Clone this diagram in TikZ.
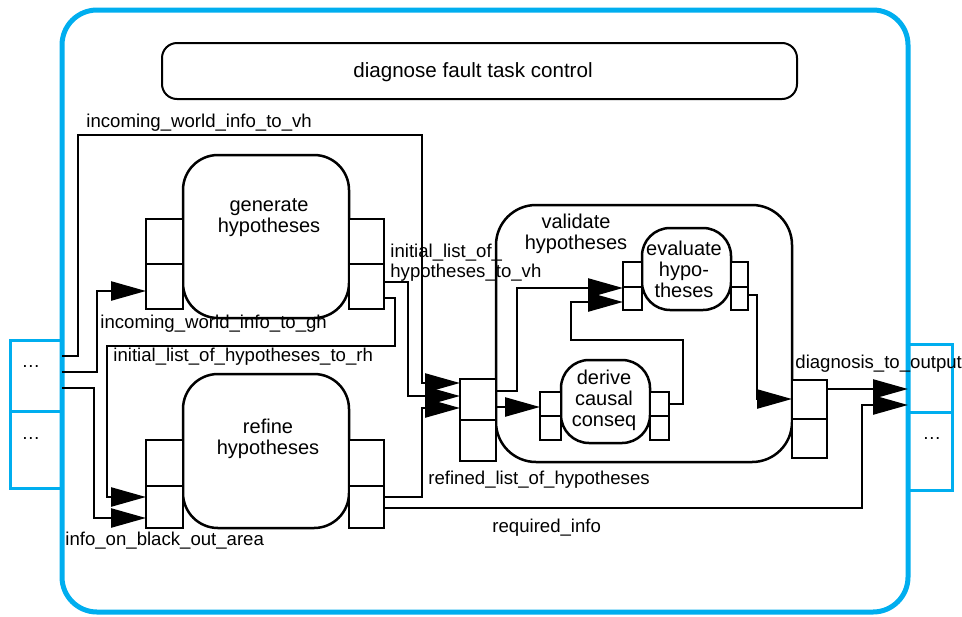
\documentclass[tikz,border=0pt]{standalone}
\usepackage{fontspec}
\setmainfont{Liberation Sans}
\usetikzlibrary{arrows.meta,fit}
\definecolor{frameblue}{RGB}{0,174,239}
\tikzset{
 wire/.style={line width=1.25pt, -{Triangle[length=17.5pt,width=9.5pt]}},
 port/.style={draw, line width=1.25pt, fill=white, inner sep=0pt, outer sep=0pt},
 task/.style={draw, line width=1.25pt, fill=white, inner sep=0pt, outer sep=0pt},
 bport/.style={draw=frameblue, line width=1.5pt, inner sep=0pt, outer sep=0pt},
 lbl/.style={font=\fontsize{9.3}{10}\selectfont, anchor=base west, inner sep=0pt},
 dots/.style={font=\fontsize{9.3}{10}\selectfont, anchor=base, inner sep=0pt},
 nm/.style={font=\fontsize{10}{10.5}\selectfont, align=center, anchor=base, inner sep=0pt},
}
\begin{document}
\begin{tikzpicture}[x=0.5pt,y=-0.5pt]
\useasboundingbox (0,0) rectangle (962,616);
% outer frame
\node[draw=frameblue, line width=2.5pt, rounded corners=17.5pt, inner sep=0pt, outer sep=0pt, fit={(62,10)(908,612)}] (outer) {};
% interface ports
\node[bport, fit={(10,340)(62,411)}] (in1) {};
\node[bport, fit={(10,411)(62,488)}] (in2) {};
\node[bport, fit={(908,344)(952,412)}] (out1) {};
\node[bport, fit={(908,412)(952,490)}] (out2) {};
\node[dots] (in1t) at (31,367) {…};
\node[dots] (in2t) at (31,439) {…};
\node[dots] (out2t) at (932,439) {…};
% task control
\node[task, line width=1pt, rounded corners=7.5pt, fit={(162,43)(797,99)}] (ctrl) {};
\node[font=\fontsize{10.3}{12}\selectfont, anchor=base, inner sep=0pt] (ctrlt) at (473,77) {diagnose fault task control};
% generate
\node[task, rounded corners=17.5pt, fit={(183,155)(349,318)}] (gen) {};
\node[port, fit={(146,219)(183,264)}] (gl1) {};
\node[port, fit={(146,264)(183,309)}] (gl2) {};
\node[port, fit={(349,219)(384,264)}] (gr1) {};
\node[port, fit={(349,264)(384,309)}] (gr2) {};
\node[nm] (gent) at (269,232) {generate\\hypotheses};
% refine
\node[task, rounded corners=17.5pt, fit={(183,374)(349,528)}] (ref) {};
\node[port, fit={(146,440)(183,486)}] (rl1) {};
\node[port, fit={(146,486)(183,528)}] (rl2) {};
\node[port, fit={(349,440)(384,486)}] (rr1) {};
\node[port, fit={(349,486)(384,528)}] (rr2) {};
\node[nm] (reft) at (268,454) {refine\\hypotheses};
% validate
\node[task, rounded corners=20pt, fit={(496,205)(792,462)}] (val) {};
\node[port, fit={(460,379)(496,420)}] (vl1) {};
\node[port, fit={(460,420)(496,461)}] (vl2) {};
\node[port, fit={(792,380)(827,419)}] (vr1) {};
\node[port, fit={(792,419)(827,458)}] (vr2) {};
\node[nm] (valt) at (576,249) {validate\\hypotheses};
% evaluate
\node[task, rounded corners=14pt, fit={(642,228)(731,310)}] (eva) {};
\node[port, fit={(623,262)(642,287)}] (el1) {};
\node[port, fit={(623,287)(642,310)}] (el2) {};
\node[port, fit={(731,262)(748,287)}] (er1) {};
\node[port, fit={(731,287)(748,310)}] (er2) {};
\node[nm] (evat) at (684,297) {evaluate\\hypo-\\theses};
% derive
\node[task, rounded corners=14pt, fit={(561,360)(650,443)}] (der) {};
\node[port, fit={(540,392)(561,416)}] (dl1) {};
\node[port, fit={(540,416)(561,440)}] (dl2) {};
\node[port, fit={(650,392)(669,416)}] (dr1) {};
\node[port, fit={(650,416)(669,440)}] (dr2) {};
\node[nm] (dert) at (604,426) {derive\\causal\\conseq};
% connectors
\draw[wire] (in1.east |- 0,356) -- (78,356) -- (78,135) -- (422,135) -- (422,383) -- (vl1.west |- 0,383);
\draw[wire] (in1.east |- 0,372) -- (97,372) -- (97,291) -- (gl2.west |- 0,291);
\draw[wire] (in1.east |- 0,388) -- (94,388) -- (94,518) -- (rl2.west |- 0,518);
\draw[wire] (gr2.east |- 0,298) -- (395,298) -- (395,346) -- (107,346) -- (107,497) -- (rl2.west |- 0,497);
\draw[wire] (gr2.east |- 0,282) -- (408,282) -- (408,396) -- (vl1.west |- 0,396);
\draw[wire] (rr2.east |- 0,497) -- (422,497) -- (422,408) -- (vl1.west |- 0,408);
\draw[wire] (rr2.east |- 0,508) -- (862,508) -- (862,405) -- (out1.west |- 0,405);
\draw[wire] (vr1.east |- 0,389) -- (out1.west |- 0,389);
\draw[wire] (vl1.east |- 0,407) -- (dl1.west |- 0,407);
\draw[wire] (vl1.east |- 0,391) -- (517,391) -- (517,288) -- (el1.west |- 0,288);
\draw[wire] (dr1.east |- 0,404) -- (683,404) -- (683,340) -- (571,340) -- (571,302) -- (el2.west |- 0,302);
\draw[wire] (er2.east |- 0,295) -- (757,295) -- (757,399) -- (vr1.west |- 0,399);
% labels
\node[lbl] (l1) at (86,127) {incoming\_world\_info\_to\_vh};
\node[lbl] (l2) at (100,328) {incoming\_world\_info\_to\_gh};
\node[lbl] (l3) at (113,361) {initial\_list\_of\_hypotheses\_to\_rh};
\node[lbl] (l4) at (390,257) {initial\_list\_of\_};
\node[lbl] (l5) at (390,277) {hypotheses\_to\_vh};
\node[lbl] (l6) at (428,484) {refined\_list\_of\_hypotheses};
\node[lbl] (l7) at (492,532) {required\_info};
\node[lbl] (l8) at (65,545) {info\_on\_black\_out\_area};
\node[lbl] (l9) at (795,368) {diagnosis\_to\_output};
\end{tikzpicture}
\end{document}
